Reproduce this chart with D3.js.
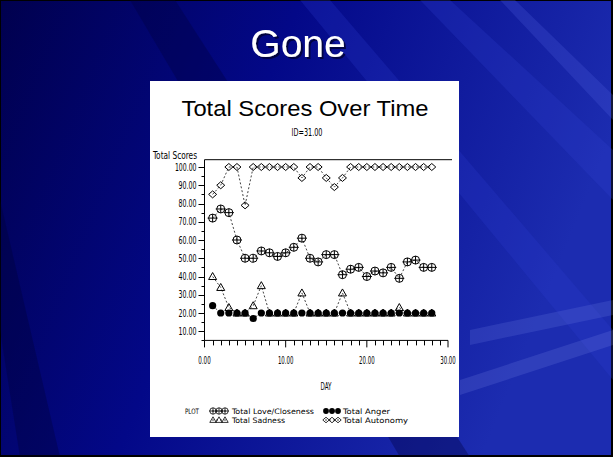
<!DOCTYPE html>
<html><head><meta charset="utf-8">
<script src="https://cdn.jsdelivr.net/npm/d3@7"></script>
<style>
html,body{margin:0;padding:0;background:#000;}
svg{display:block;}
</style></head>
<body>
<svg id="chart" width="613" height="457"></svg>
<script>
// ---------------- data ----------------
const days = [1,2,3,4,5,6,7,8,9,10,11,12,13,14,15,16,17,18,19,20,21,22,23,24,25,26,27,28];
const loveCloseness = [72,77,75,60,50,50,54,53,51,53,56,61,50,48,52,52,41,44,45,40,43,42,45,39,48,49,45,45];
const sadness      = [40,34,23,20,20,24,35,20,20,20,20,31,20,20,20,20,31,20,20,20,20,20,20,23,20,20,20,20];
const anger        = [24,20,20,20,20,17,20,20,20,20,20,20,20,20,20,20,20,20,20,20,20,20,20,20,20,20,20,20];
const autonomy     = [85,90,100,100,79,100,100,100,100,100,100,94,100,100,94,89,94,100,100,100,100,100,100,100,100,100,100,100];
const xTicks = [0,10,20,30];
const xTickLabels = ["0.00","10.00","20.00","30.00"];
const yTicks = [10,20,30,40,50,60,70,80,90,100];
const yTickLabels = ["10.00","20.00","30.00","40.00","50.00","60.00","70.00","80.00","90.00","100.00"];
const slideTitle = "Gone";
const chartTitle = "Total Scores Over Time";
const subTitle = "ID=31.00";
const yLabel = "Total Scores";
const xLabel = "DAY";
const legendItems = [
  {name:"Total Love/Closeness", key:"love"},
  {name:"Total Anger", key:"anger"},
  {name:"Total Sadness", key:"sad"},
  {name:"Total Autonomy", key:"auto"}
];

// ---------------- drawing ----------------
const svg = d3.select("#chart");
const W = 613, H = 457;
const defs = svg.append("defs");

const bg = defs.append("linearGradient").attr("id","bg").attr("x1","0").attr("y1","0").attr("x2","1").attr("y2","0.3");
bg.append("stop").attr("offset","0").attr("stop-color","#00004e");
bg.append("stop").attr("offset","0.45").attr("stop-color","#030888");
bg.append("stop").attr("offset","1").attr("stop-color","#1c2cb0");

const sh = defs.append("filter").attr("id","shadow").attr("x","-20%").attr("y","-20%").attr("width","140%").attr("height","140%");
sh.append("feDropShadow").attr("dx",2).attr("dy",2).attr("stdDeviation",0.6).attr("flood-color","#000020").attr("flood-opacity",0.7);

svg.append("rect").attr("width",W).attr("height",H).attr("fill","#000");
svg.append("rect").attr("x",1).attr("y",1).attr("width",W-3).attr("height",H-3).attr("fill","url(#bg)");

// diagonal streaks
const streaks = [
  {pts:[[130,0],[175,0],[470,457],[400,457]], c:"#000040", o:0.35},
  {pts:[[300,0],[330,0],[613,330],[613,380]], c:"#2a3ad0", o:0.25},
  {pts:[[420,0],[450,0],[613,150],[613,200]], c:"#3040d0", o:0.25},
  {pts:[[500,0],[515,0],[613,95],[613,120]], c:"#5060e0", o:0.25},
  {pts:[[470,330],[613,300],[613,315],[470,345]], c:"#8090f0", o:0.18},
  {pts:[[460,380],[613,330],[613,345],[460,395]], c:"#a0b0ff", o:0.15},
  {pts:[[0,200],[60,457],[20,457],[0,330]], c:"#000030", o:0.3}
];
streaks.forEach(s=>{
  svg.append("polygon").attr("points",s.pts.map(p=>p.join(",")).join(" "))
    .attr("fill",s.c).attr("opacity",s.o);
});

// slide title
svg.append("text").attr("x",298).attr("y",57).attr("text-anchor","middle")
  .attr("font-family","Liberation Sans, Arial, sans-serif").attr("font-size",39)
  .attr("fill","#ffffff").attr("filter","url(#shadow)").text(slideTitle);

// white panel
svg.append("rect").attr("x",150).attr("y",81).attr("width",309).attr("height",356).attr("fill","#fff");

const NF = "DejaVu Sans Condensed, Liberation Sans Narrow, sans-serif";
function narrow(g, x, y, str, width, anchor, size){
  return g.append("text").attr("x",x).attr("y",y).attr("text-anchor",anchor||"start")
    .attr("font-family",NF).attr("font-size",size||10).attr("fill","#000")
    .attr("textLength",width).attr("lengthAdjust","spacingAndGlyphs").text(str);
}

svg.append("text").attr("x",305).attr("y",116).attr("text-anchor","middle")
  .attr("font-family","Liberation Sans, Arial, sans-serif").attr("font-size",22)
  .attr("textLength",247).attr("lengthAdjust","spacingAndGlyphs").text(chartTitle);
narrow(svg, 307, 136, subTitle, 31, "middle", 10);

const x = d3.scaleLinear().domain([0,30]).range([204.5,448]);
const y = d3.scaleLinear().domain([5,104]).range([340.4,159.7]);

const axes = svg.append("g").attr("stroke","#000").attr("stroke-width",1).attr("fill","none");
axes.append("line").attr("x1",x(0)).attr("x2",x(0)).attr("y1",y(104)).attr("y2",y(5));
axes.append("line").attr("x1",x(0)).attr("x2",452).attr("y1",y(104)).attr("y2",y(104));
axes.append("line").attr("x1",x(0)).attr("x2",x(30)).attr("y1",y(5)).attr("y2",y(5));

const yMinor = d3.range(5,104,5).filter(v=>v%10!==0);
yTicks.forEach(v=>axes.append("line").attr("x1",x(0)-6).attr("x2",x(0)).attr("y1",Math.round(y(v))+0.5).attr("y2",Math.round(y(v))+0.5));
yMinor.forEach(v=>axes.append("line").attr("x1",x(0)-3).attr("x2",x(0)).attr("y1",Math.round(y(v))+0.5).attr("y2",Math.round(y(v))+0.5));
const xMinor = d3.range(1,30).filter(v=>v%10!==0);
xTicks.forEach(v=>axes.append("line").attr("x1",x(v)).attr("x2",x(v)).attr("y1",y(5)).attr("y2",y(5)+7));
xMinor.forEach(v=>axes.append("line").attr("x1",Math.round(x(v))+0.5).attr("x2",Math.round(x(v))+0.5).attr("y1",y(5)).attr("y2",y(5)+5));

yTicks.forEach((v,i)=>{
  const s = yTickLabels[i];
  narrow(svg, 196.5, y(v)+3.5, s, s.length*3.6, "end", 10).attr("font-weight","normal");
});
xTicks.forEach((v,i)=>{
  const s = xTickLabels[i];
  narrow(svg, x(v), 364, s, s.length*3.1, "middle", 10);
});
narrow(svg, 153, 159, yLabel, 44, "start", 10);
narrow(svg, 326, 390, xLabel, 11, "middle", 10);

function marker(g, key, cx, cy){
  if(key==="love"){
    g.append("circle").attr("cx",cx).attr("cy",cy).attr("r",4).attr("fill","none").attr("stroke","#000");
    g.append("line").attr("x1",cx-5).attr("x2",cx+5).attr("y1",cy).attr("y2",cy).attr("stroke","#000");
    g.append("line").attr("x1",cx).attr("x2",cx).attr("y1",cy-4).attr("y2",cy+4).attr("stroke","#000");
  } else if(key==="sad"){
    g.append("path").attr("d",`M${cx-4},${cy+3}L${cx},${cy-4}L${cx+4},${cy+3}Z`).attr("fill","none").attr("stroke","#000");
  } else if(key==="anger"){
    g.append("circle").attr("cx",cx).attr("cy",cy).attr("r",3.6).attr("fill","#000");
  } else {
    g.append("path").attr("d",`M${cx-4},${cy}L${cx},${cy-3.5}L${cx+4},${cy}L${cx},${cy+3.5}Z`).attr("fill","none").attr("stroke","#000");
  }
}

const series = [
  {key:"love", vals:loveCloseness},
  {key:"auto", vals:autonomy},
  {key:"sad", vals:sadness},
  {key:"anger", vals:anger}
];
const line = d3.line().x(d=>x(d[0])).y(d=>y(d[1]));
series.forEach(s=>{
  const pts = days.map((d,i)=>[d,s.vals[i]]);
  svg.append("path").attr("d",line(pts)).attr("fill","none")
    .attr("stroke","#444").attr("stroke-width",1).attr("stroke-dasharray","2,2");
  const g = svg.append("g");
  pts.forEach(p=>marker(g, s.key, x(p[0]), y(p[1])));
});

// legend
narrow(svg, 185, 414, "PLOT", 14, "start", 7.5);
const legPos = [
  {mx:210, tx:232, ty:414, w:82},
  {mx:323, tx:343, ty:414, w:47},
  {mx:210, tx:232, ty:423, w:53},
  {mx:323, tx:343, ty:423, w:65}
];
legendItems.forEach((it,i)=>{
  const p = legPos[i];
  const lg = svg.append("g");
  const cy = p.ty-3;
  lg.append("line").attr("x1",p.mx+2).attr("x2",p.mx+16).attr("y1",cy).attr("y2",cy).attr("stroke","#444").attr("stroke-dasharray","2,2");
  [p.mx+3,p.mx+9,p.mx+15].forEach(cx=>{
    const mg = lg.append("g").attr("transform",`translate(${cx},${cy}) scale(0.8) translate(${-cx},${-cy})`);
    marker(mg, it.key, cx, cy);
  });
  narrow(svg, p.tx, p.ty, it.name, p.w, "start", 7.5);
});
</script>
</body></html>
